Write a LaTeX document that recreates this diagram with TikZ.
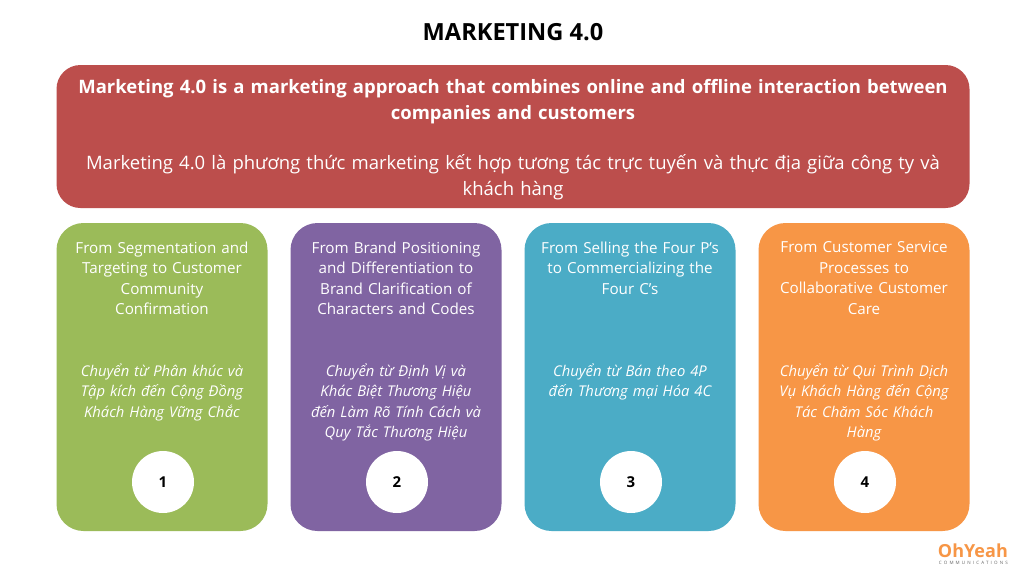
\documentclass[tikz,border=0pt]{standalone}
\usepackage{fontspec}
\setmainfont{Open Sans}
\newfontfamily\logofont[LetterSpace=48]{Open Sans}
\usepackage{tikz}
\definecolor{headred}{HTML}{BC4E4C}
\definecolor{cardgreen}{HTML}{9BBB59}
\definecolor{cardpurple}{HTML}{8064A2}
\definecolor{cardblue}{HTML}{4BACC6}
\definecolor{cardorange}{HTML}{F79646}
\tikzset{x=1pt,y=-1pt,
  cardbox/.style={draw=none,rounded corners=27pt,minimum width=211pt,minimum height=308pt,inner sep=0pt},
  cardtext/.style={text=white,align=center,anchor=north,text width=205pt,font=\fontsize{15.2}{20.5}\selectfont},
  numdisc/.style={circle,fill=white,minimum size=62pt,inner sep=0pt,font=\fontsize{15}{18}\selectfont\bfseries}}
\begin{document}
\begin{tikzpicture}
	\useasboundingbox (0,0) rectangle (1024,576);
	\fill[white] (0,0) rectangle (1024,576);
	\node[font=\fontsize{23.6}{26}\selectfont\bfseries] (title) at (513,32) {MARKETING 4.0};
	\node[fill=headred,rounded corners=24pt,minimum width=913pt,minimum height=143pt,inner sep=0pt] (head) at (513,136.5) {};
	\node[text=white,align=center,text width=905pt,font=\fontsize{18.5}{26}\selectfont\bfseries] (headen) at (513,101.5) {Marketing 4.0 is a marketing approach that combines online and offline interaction between\\companies and customers};
	\node[text=white,align=center,text width=905pt,font=\fontsize{18.5}{26}\selectfont] (headvi) at (513,177) {Marketing 4.0 là phương thức marketing kết hợp tương tác trực tuyến và thực địa giữa công ty và\\khách hàng};
	\foreach \x/\c/\n/\en/\vi in {
		162/cardgreen/1/{From Segmentation and\\Targeting to Customer\\Community\\Confirmation}/{Chuyển từ Phân khúc và\\Tập kích đến Cộng Đồng\\Khách Hàng Vững Chắc},
		396/cardpurple/2/{From Brand Positioning\\and Differentiation to\\Brand Clarification of\\Characters and Codes}/{Chuyển từ Định Vị và\\Khác Biệt Thương Hiệu\\đến Làm Rõ Tính Cách và\\Quy Tắc Thương Hiệu},
		630/cardblue/3/{From Selling the Four P's\\to Commercializing the\\Four C's}/{Chuyển từ Bán theo 4P\\đến Thương mại Hóa 4C},
		864/cardorange/4/{From Customer Service\\Processes to\\Collaborative Customer\\Care}/{Chuyển từ Qui Trình Dịch\\Vụ Khách Hàng đến Cộng\\Tác Chăm Sóc Khách\\Hàng}}{%
		\node[cardbox,fill=\c] (card-\n) at (\x,377) {};
		\node[cardtext] (en-\n) at (\x,238) {\en};
		\node[cardtext,font=\fontsize{14.8}{20.5}\selectfont\itshape] (vi-\n) at (\x,359.8) {\vi};
		\node[numdisc] (num-\n) at (\x+1,482) {\n};
	}
	\node[anchor=east,text=cardorange,font=\fontsize{18}{19}\selectfont\bfseries,inner sep=0pt] (logo) at (1008,551) {OhYeah};
	\node[anchor=north east,text=black!60,font=\logofont\fontsize{4.5}{5}\selectfont,inner sep=0pt] (logosub) at (1008,561) {COMMUNICATIONS};
\end{tikzpicture}
\end{document}
